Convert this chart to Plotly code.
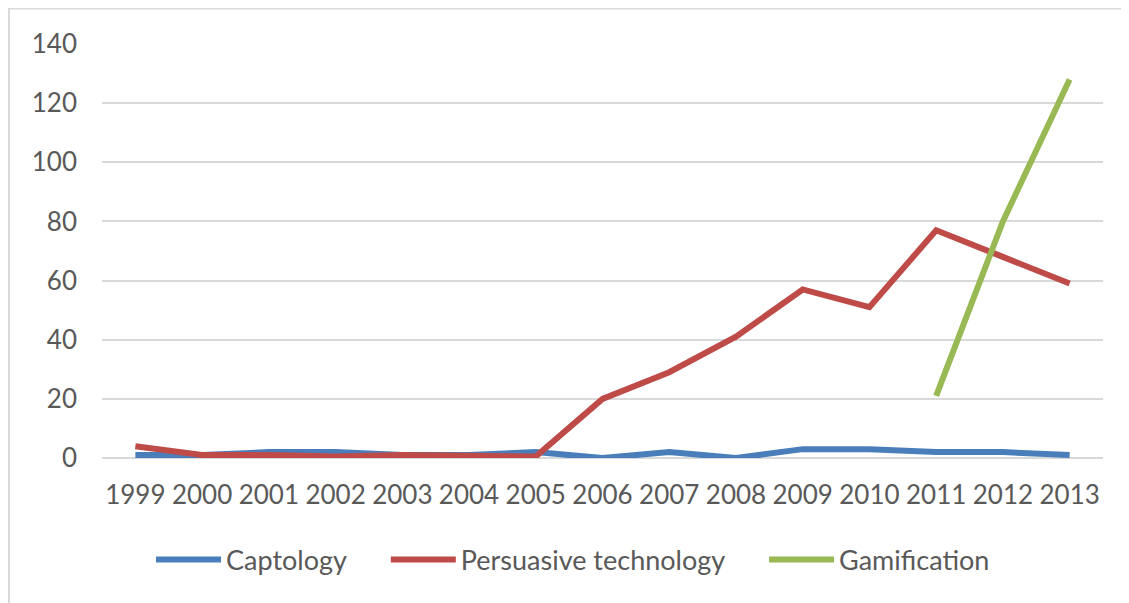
import plotly.graph_objects as go

years = [1999, 2000, 2001, 2002, 2003, 2004, 2005, 2006, 2007, 2008, 2009, 2010, 2011, 2012, 2013]
captology = [1, 1, 2, 2, 1, 1, 2, 0, 2, 0, 3, 3, 2, 2, 1]
persuasive = [4, 1, 1, 0.5, 1, 1, 0.5, 20, 29, 41, 57, 51, 77, 68, 59]
gamification = [None, None, None, None, None, None, None, None, None, None, None, None, 21, 80, 128]

series_names = ["Captology", "Persuasive technology", "Gamification"]
series_colors = ["#4A7EBB", "#BE4B48", "#98B954"]
y_ticks = [0, 20, 40, 60, 80, 100, 120, 140]

OFF = 8  # page body margin
W, H = 1129 - OFF, 603 - OFF
L, T = 102 - OFF, 44 - OFF
R = W - (1103 - OFF)
B = H - (458 - OFF)

pad = "&nbsp;" * 5
fig = go.Figure()
for i, (name, vals, col) in enumerate(zip(series_names, [captology, persuasive, gamification], series_colors)):
    label = name + (pad if i < len(series_names) - 1 else "")
    fig.add_trace(go.Scatter(
        x=years, y=vals, name=label, mode="lines",
        line=dict(color=col, width=6), connectgaps=False,
    ))

font_color = "#595959"
fig.update_layout(
    width=W, height=H,
    margin=dict(l=L, r=R, t=T, b=B),
    paper_bgcolor="white", plot_bgcolor="white",
    font=dict(family="Lato, Open Sans, sans-serif", size=26, color=font_color),
    showlegend=True,
    legend=dict(
        orientation="h", xref="container", yref="container",
        x=(157 - OFF - 6) / W, xanchor="left", y=1 - (560 - OFF) / H, yanchor="middle",
        font=dict(size=27, color=font_color), itemwidth=65,
        bgcolor="rgba(0,0,0,0)",
    ),
    xaxis=dict(
        range=[1998.5, 2013.5], tickmode="array", tickvals=years,
        ticktext=[str(y) for y in years], showgrid=False, zeroline=False,
        showline=False, ticks="", ticklabelstandoff=19,
    ),
    yaxis=dict(
        range=[0, 140], tickmode="array", tickvals=y_ticks,
        showgrid=True, gridcolor="#D9D9D9", gridwidth=1.5,
        zeroline=True, zerolinecolor="#D9D9D9", zerolinewidth=1.5,
        showline=False, ticks="", ticklabelstandoff=24,
    ),
    shapes=[dict(
        type="rect", xref="paper", yref="paper",
        x0=(9 - 102) / (W - L - R), x1=1.2,
        y0=-0.5, y1=1 + (T - 0.5) / (H - T - B),
        line=dict(color="#D9D9D9", width=2), fillcolor="rgba(0,0,0,0)", layer="below",
    )],
)

fig.write_html("out.html")
